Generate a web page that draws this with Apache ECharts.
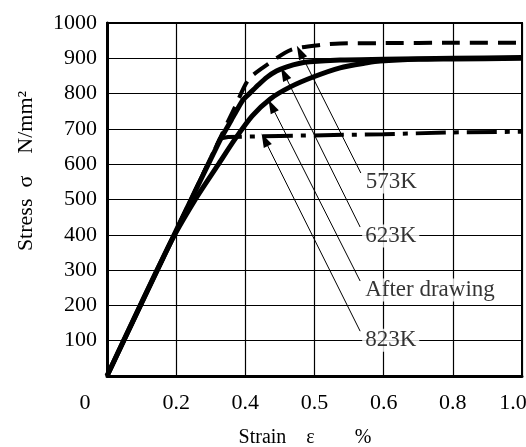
<!DOCTYPE html>
<html>
<head>
<meta charset="utf-8">
<script src="https://cdn.jsdelivr.net/npm/echarts@6/dist/echarts.min.js"></script>
<style>
  html, body { margin: 0; padding: 0; background: #fff; }
  #chart { width: 526px; height: 447px; }
</style>
</head>
<body>
<div id="chart"></div>
<script>
// strain axis is drawn with equal spacing between these ticks
const xTickValues = [0, 0.2, 0.4, 0.5, 0.6, 0.8, 1.0];
const xTickLabels = ["0", "0.2", "0.4", "0.5", "0.6", "0.8", "1.0"];

// 623K (solid, upper)
const strain623 = [0, 0.2, 0.3, 0.33, 0.36, 0.375, 0.394, 0.407, 0.419, 0.431, 0.445, 0.46, 0.479, 0.493, 0.537, 0.6, 0.8, 1.0];
const stress623 = [0, 412, 614, 674, 726, 752, 783, 802, 825, 846, 864, 876, 886, 890, 895, 897, 900, 902];

// After drawing (solid, lower)
const strainDrawn = [0, 0.18, 0.254, 0.321, 0.37, 0.41, 0.436, 0.465, 0.498, 0.537, 0.576, 0.595, 0.7, 0.8, 1.0];
const stressDrawn = [0, 371, 498, 598, 671, 737, 785, 819, 847, 873, 887, 892, 897, 898, 900];

// 573K (dashed)
const strain573 = [0, 0.2, 0.3, 0.37, 0.405, 0.433, 0.466, 0.509, 0.537, 0.6, 0.8, 1.0];
const stress573 = [0, 412, 618, 762, 841, 884, 924, 938, 942, 943, 944, 944];

// 823K (dash-dot)
const strain823 = [0, 0.2, 0.3, 0.327, 0.35, 0.45, 0.6, 0.8, 1.0];
const stress823 = [0, 412, 618, 673, 677, 680, 685, 690, 692];

// callouts: arrow tip on the curve, then where the text sits
const calloutNames = ["573K", "623K", "After drawing", "823K"];
const calloutTip = [[0.479, 918], [0.456, 856], [0.438, 765], [0.428, 669]];
const calloutText = [[0.567, 575], [0.566, 422], [0.566, 269], [0.566, 127]];

// map a strain value onto the evenly spaced tick positions
function toPos(s) {
  for (let i = 0; i < xTickValues.length - 1; i++) {
    if (s <= xTickValues[i + 1]) {
      return i + (s - xTickValues[i]) / (xTickValues[i + 1] - xTickValues[i]);
    }
  }
  return xTickValues.length - 1;
}

function pairs(xs, ys) {
  return xs.map((x, i) => [toPos(x), ys[i]]);
}

const chart = echarts.init(document.getElementById("chart"), null, { renderer: "canvas" });

const font = "Liberation Serif";

const option = {
  animation: false,
  backgroundColor: "#fff",
  textStyle: { fontFamily: font, color: "#000" },
  grid: {
    left: 107,
    right: 4,
    top: 23,
    bottom: 71,
    show: true,
    borderColor: "#000",
    borderWidth: 2,
    outerBoundsMode: "none"
  },
  xAxis: {
    type: "value",
    min: 0,
    max: xTickValues.length - 1,
    interval: 1,
    name: "Strain    ε        %",
    nameLocation: "middle",
    nameGap: 52,
    nameTextStyle: { fontFamily: font, fontSize: 20, color: "#000", padding: [0, 19, 0, 0] },
    axisLine: { lineStyle: { color: "#000", width: 3 } },
    axisTick: { show: false },
    splitLine: { show: true, lineStyle: { color: "#000", width: 1.2 } },
    axisLabel: {
      margin: 16,
      fontFamily: font,
      fontSize: 22,
      color: "#000",
      formatter: function (v) {
        const t = xTickLabels[Math.round(v)];
        if (v === 0) return "{first|" + t + "}";
        if (v === xTickLabels.length - 1) return "{last|" + t + "}";
        return t;
      },
      rich: {
        first: { fontFamily: font, fontSize: 22, color: "#000", padding: [0, 44, 0, 0] },
        last: { fontFamily: font, fontSize: 22, color: "#000", padding: [0, 18, 0, 0] }
      }
    }
  },
  yAxis: {
    type: "value",
    min: 0,
    max: 1000,
    interval: 100,
    name: "Stress  σ    N/mm²",
    nameLocation: "middle",
    nameGap: 70,
    nameTextStyle: { fontFamily: font, fontSize: 22, color: "#000", padding: [0, 0, 0, 57] },
    axisLine: { lineStyle: { color: "#000", width: 3 } },
    axisTick: { show: false },
    splitLine: { show: true, lineStyle: { color: "#000", width: 1.2 } },
    axisLabel: {
      margin: 10,
      fontFamily: font,
      fontSize: 22,
      color: "#000",
      formatter: function (v) {
        return v === 0 ? "" : String(v);
      }
    }
  },
  series: [
    {
      name: "823K",
      type: "line",
      data: pairs(strain823, stress823),
      showSymbol: false,
      lineStyle: { color: "#000", width: 4, type: [30, 8, 5, 8], cap: "butt" }
    },
    {
      name: "573K",
      type: "line",
      data: pairs(strain573, stress573),
      smooth: 0.25,
      showSymbol: false,
      lineStyle: { color: "#000", width: 4, type: [18, 10], cap: "butt" }
    },
    {
      name: "After drawing",
      type: "line",
      data: pairs(strainDrawn, stressDrawn),
      smooth: 0.25,
      showSymbol: false,
      lineStyle: { color: "#000", width: 5, join: "round" }
    },
    {
      name: "623K",
      type: "line",
      data: pairs(strain623, stress623),
      smooth: 0.25,
      showSymbol: false,
      lineStyle: { color: "#000", width: 5, join: "round" }
    },
    {
      // callout texts with leader arrows
      name: "callouts",
      type: "scatter",
      symbolSize: 0,
      z: 5,
      data: calloutText.map((p, i) => ({ value: [toPos(p[0]), p[1]], name: calloutNames[i] })),
      label: {
        show: true,
        position: "right",
        distance: 2,
        offset: [0, 9],
        formatter: "{b}",
        fontFamily: font,
        fontSize: 23,
        color: "#000",
        backgroundColor: "#fff",
        padding: [0, 3]
      },
      markLine: {
        silent: true,
        symbol: ["triangle", "none"],
        symbolSize: [9, 14],
        label: { show: false },
        lineStyle: { color: "#000", width: 1, type: "solid" },
        data: calloutTip.map((p, i) => [
          { coord: [toPos(p[0]), p[1]] },
          { coord: [toPos(calloutText[i][0]), calloutText[i][1]] }
        ])
      }
    }
  ]
};

chart.setOption(option);
</script>
</body>
</html>
